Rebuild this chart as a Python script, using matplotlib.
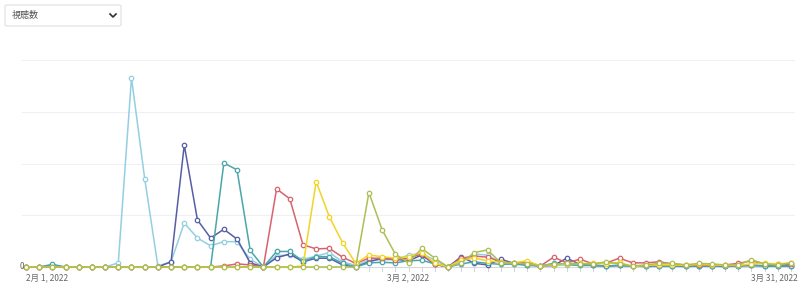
import matplotlib
matplotlib.use("Agg")
import matplotlib.pyplot as plt
from matplotlib.patches import FancyBboxPatch
from matplotlib.lines import Line2D
import matplotlib.transforms as mtransforms

plt.rcParams['font.family'] = ['Noto Sans CJK JP', 'DejaVu Sans']

# daily views, Feb 1 .. Mar 31 2022 (59 days)
light_blue = [0, 0, 0.3, 0, 0, 0, 0, 0.8, 36.6, 17.1,
              0.2, 1.0, 8.5, 5.6, 4.1, 4.9, 4.9, 1.5, 0, 2.2,
              2.3, 1.5, 2.1, 2.8, 1.0, 0.3, 1.3, 1.4, 1.4, 2.3,
              2.6, 1.3, 0, 1.2, 2.5, 2.3, 0.8, 0.5, 0.3, 0.2,
              0.3, 0.4, 0.3, 0.3, 0.2, 0.3, 0.2, 0.2, 0.3, 0.2,
              0.2, 0.2, 0.2, 0.2, 0.3, 0.4, 0.3, 0.2, 0.3]
indigo = [0, 0, 0, 0, 0, 0, 0, 0, 0, 0,
          0, 1.0, 23.6, 9.1, 5.6, 7.3, 5.4, 0.8, 0, 1.8,
          2.5, 1.0, 1.7, 1.7, 0.4, 0, 1.0, 1.7, 1.5, 1.2,
          2.3, 0.5, 0, 2.0, 0.7, 0.4, 1.5, 0.7, 0.4, 0.2,
          0.3, 1.7, 0.5, 0.3, 0.2, 0.3, 0.2, 0.1, 0.2, 0.2,
          0.1, 0.2, 0.2, 0.1, 0.2, 0.3, 0.2, 0.2, 0.2]
teal = [0, 0, 0.5, 0, 0, 0, 0, 0, 0, 0,
        0, 0, 0, 0, 0, 20.1, 18.8, 3.2, 0, 3.0,
        3.0, 1.1, 2.0, 2.0, 0.7, 0, 0.8, 0.9, 0.8, 1.2,
        1.3, 0.6, 0, 0.6, 1.0, 0.7, 0.5, 0.6, 0.4, 0.2,
        0.7, 0.5, 0.3, 0.3, 0.2, 0.3, 0.2, 0.2, 0.2, 0.2,
        0.2, 0.2, 0.2, 0.2, 0.2, 0.3, 0.2, 0.2, 0.2]
red = [0, 0, 0, 0, 0, 0, 0, 0, 0, 0,
       0, 0, 0, 0, 0, 0.2, 0.6, 0.4, 0, 15.1,
       13.2, 4.3, 3.5, 3.6, 1.9, 0.7, 1.7, 1.7, 1.4, 1.7,
       2.5, 0.6, 0, 1.7, 2.1, 1.9, 1.0, 0.7, 1.0, 0.2,
       1.9, 0.8, 1.5, 0.6, 0.8, 1.7, 0.8, 0.8, 1.0, 0.6,
       0.4, 0.4, 0.3, 0.4, 0.7, 1.2, 0.6, 0.6, 0.5]
yellow = [0, 0, 0, 0, 0, 0, 0, 0, 0, 0,
          0, 0, 0, 0, 0, 0, 0, 0, 0, 0,
          0, 0.2, 16.5, 9.7, 4.7, 0.7, 2.3, 2.0, 1.7, 2.0,
          2.8, 0.7, 0, 1.4, 1.7, 1.2, 0.9, 0.8, 1.2, 0.2,
          0.4, 0.6, 0.7, 0.7, 0.6, 0.9, 0.1, 0.3, 0.4, 0.4,
          0.3, 0.5, 0.4, 0.3, 0.3, 0.6, 0.7, 0.6, 0.8]
olive = [0, 0, 0, 0, 0, 0, 0, 0, 0, 0,
         0, 0, 0, 0, 0, 0, 0, 0, 0, 0,
         0, 0, 0, 0, 0, 0, 14.4, 7.2, 2.5, 0.8,
         3.6, 1.7, 0, 0.8, 2.8, 3.3, 0.8, 0.8, 0.6, 0.2,
         0.5, 0.7, 0.6, 0.6, 1.0, 0.6, 0.2, 0.4, 0.7, 0.7,
         0.4, 0.7, 0.6, 0.4, 0.4, 1.4, 0.6, 0.4, 0.8]

series = [light_blue, indigo, teal, red, yellow, olive]
colors = ['#93cfe2', '#575ea6', '#4aa6a9', '#d6646c', '#f3d324', '#adbf52']
tick_labels = ['2月 1, 2022', '3月 2, 2022', '3月 31, 2022']
tick_days = [0, 29, 58.5]
tick_ha = ['left', 'center', 'right']

fig = plt.figure(figsize=(8, 2.85), dpi=100)
fig.patch.set_facecolor('white')
ax = fig.add_axes([22 / 800, 13 / 285, 773 / 800, 222 / 285])
ax.set_facecolor('none')

days = list(range(len(light_blue)))
for vals, c in zip(series, colors):
    ax.plot(days, vals, color=c, lw=1.1, marker='o', ms=3.2,
            mfc='white', mec=c, mew=0.9, zorder=3)

ax.set_xlim(-0.3, 58.3)
ax.set_ylim(-0.97, 41.97)
for gy in [10, 20, 30, 40]:
    ax.axhline(gy, color='#eef0f5', lw=0.8, zorder=0)
ax.axhline(0, color='#d5d8de', lw=0.8, zorder=1)

for s in ax.spines.values():
    s.set_visible(False)
ax.set_xticks([])
ax.set_yticks([])

# small day ticks under the baseline in the dense part
for d in range(26, 59):
    ax.plot([d, d], [0, -0.8], color='#d0d3d8', lw=0.7, zorder=1)

trans = mtransforms.blended_transform_factory(ax.transData, ax.transAxes)
for d, lab, ha in zip(tick_days, tick_labels, tick_ha):
    ax.text(d, -0.027, lab, transform=trans, ha=ha, va='center',
            fontsize=6, color='#666666')
ax.text(-0.15, 0, '0', ha='right', va='center', fontsize=6, color='#666666')

# dropdown selector
box = FancyBboxPatch((5 / 800, 259 / 285), 116 / 800, 21 / 285,
                     boxstyle='round,pad=0,rounding_size=0.004',
                     transform=fig.transFigure, fc='white', ec='#dcdfe4', lw=0.8)
fig.patches.append(box)
fig.text(12 / 800, 269.5 / 285, '視聴数', fontsize=6.5, color='#555555',
         ha='left', va='center')
fig.lines.append(Line2D([110 / 800, 113 / 800, 116 / 800],
                        [271 / 285, 268 / 285, 271 / 285],
                        transform=fig.transFigure, color='#333333', lw=1.2))

fig.savefig('out.png', dpi=100)
